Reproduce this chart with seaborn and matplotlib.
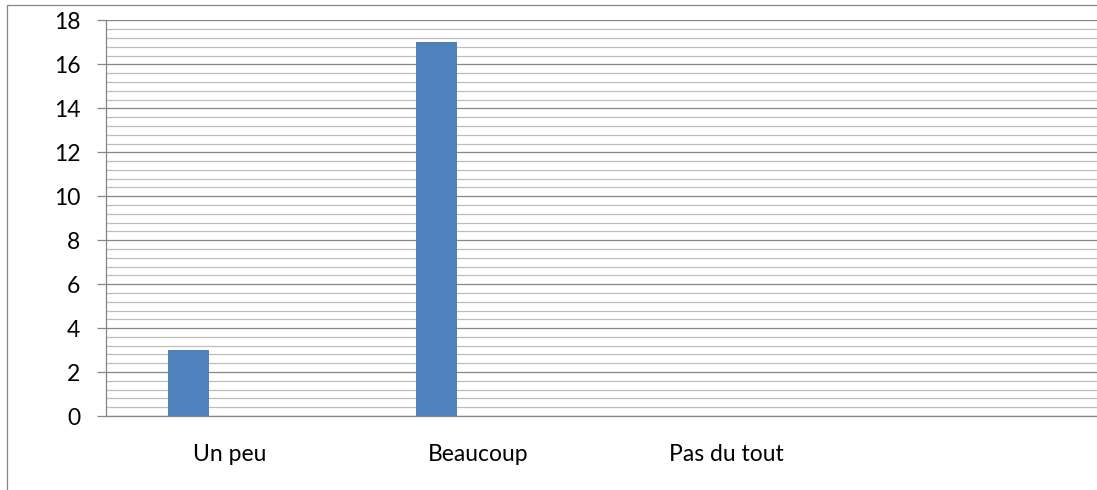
import matplotlib
matplotlib.use("Agg")
import numpy as np
import pandas as pd
import matplotlib.pyplot as plt
import seaborn as sns
from matplotlib.patches import Rectangle
from matplotlib.ticker import MultipleLocator

# Données du graphique
categories = ["Un peu", "Beaucoup", "Pas du tout", ""]
series = ["Série 1", "Série 2", "Série 3"]
serie1 = [3, 17, 0, 0]
serie2 = [0, 0, 0, 0]
serie3 = [0, 0, 0, 0]

rows = []
for nom, vals in zip(series, [serie1, serie2, serie3]):
    for cat, v in zip(categories, vals):
        rows.append({"Catégorie": cat, "Série": nom, "Valeur": v})
df = pd.DataFrame(rows)

sns.set_style("white")
plt.rcParams["font.family"] = ["Lato", "DejaVu Sans"]

W, H = 1097, 490
fig = plt.figure(figsize=(W / 100, H / 100), dpi=100)
ax = fig.add_axes([106 / W, (H - 416) / H, 992 / W, (416 - 20.5) / H])

sns.barplot(data=df, x="Catégorie", y="Valeur", hue="Série",
            order=categories, hue_order=series,
            palette=["#4F81BD", "#C0504D", "#9BBB59"], saturation=1,
            width=0.5, gap=0, linewidth=0, errorbar=None,
            legend=False, ax=ax)

ax.set_xlim(-0.5, len(categories) - 0.5)
ax.set_ylim(0, 18)
ax.yaxis.set_major_locator(MultipleLocator(2))
ax.yaxis.set_minor_locator(MultipleLocator(0.4))
ax.set_axisbelow(True)
ax.grid(which="major", axis="y", color="#868686", linewidth=0.9)
ax.grid(which="minor", axis="y", color="#bdbdbd", linewidth=0.9)
ax.grid(which="both", axis="x", visible=False)

for s in ["top", "right"]:
    ax.spines[s].set_visible(False)
for s in ["left", "bottom"]:
    ax.spines[s].set_color("#868686")
    ax.spines[s].set_linewidth(0.9)

ax.tick_params(axis="y", which="major", direction="out", length=6.5,
               width=0.9, color="#868686", pad=12, labelsize=16.5,
               labelcolor="black", left=True)
ax.tick_params(axis="y", which="minor", length=0)
ax.tick_params(axis="x", length=0, pad=20, labelsize=16.5, labelcolor="black")
ax.set_xlabel("")
ax.set_ylabel("")

# cadre du graphique (coupé à droite et en bas)
fig.patches.append(Rectangle((7 / W, -0.2), 1.3, 1.2 - 5 / H,
                             transform=fig.transFigure, fill=False,
                             edgecolor="#868686", linewidth=0.9))

fig.savefig("out.png", dpi=100)
